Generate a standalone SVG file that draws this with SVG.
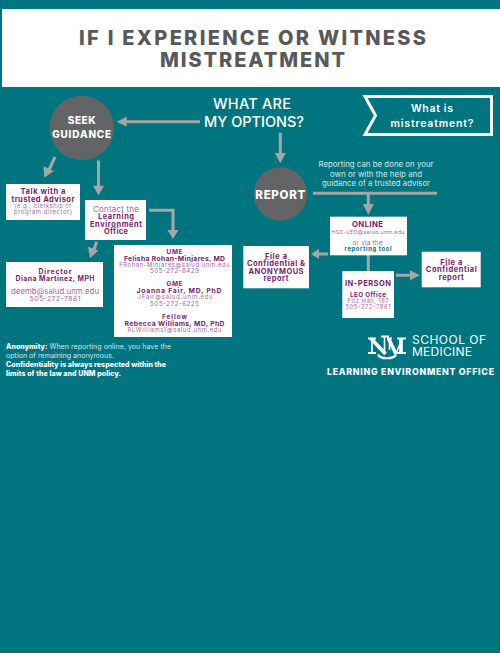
<svg xmlns="http://www.w3.org/2000/svg" width="500" height="653" viewBox="0 0 500 653">
<style>
text{font-family:Inter,"Open Sans","Liberation Sans",sans-serif;text-anchor:middle}
.box{fill:#fff}
.conn{fill:none;stroke:#a7a5a6;stroke-width:3}
.head{fill:#a7a5a6}
.circle{fill:#636466}
.b{font-weight:700;fill:#7b1c6e}
.l{fill:#a565a0}
.w{fill:#fff}
.wb{fill:#fff;font-weight:800}
.n{fill:#d5e6e7}
.st{text-anchor:start}
.lg{fill:none;stroke:#fff}
</style>
<rect width="500" height="653" fill="#00757f"/>
<g id="title">
<rect class="box" x="2" y="9" width="498" height="78"/>
<text x="252.500" y="44.500" font-size="20" font-weight="800" fill="#58595b" textLength="347">IF I EXPERIENCE OR WITNESS</text>
<text x="252.500" y="66.700" font-size="20" font-weight="800" fill="#58595b" textLength="185">MISTREATMENT</text>
</g>
<g id="connectors">
<path class="conn" d="M200 121.700H126"/><path class="head" d="M116.700 121.700l10-5v10z"/>
<path class="conn" d="M280.300 132.700V155"/><path class="head" d="M280.300 163.300l-5.500-10.300h11z"/>
<path class="conn" d="M55 157L49 170"/><path class="head" d="M44.300 177.700l-.8-11.500 10.300 4.700z"/>
<path class="conn" d="M98.500 160.500V187"/><path class="head" d="M98.500 195.300l-5.500-9.600h11z"/>
<path class="conn" d="M149 210.300H173V231"/><path class="head" d="M173 239l-5.500-9h11z"/>
<path class="conn" d="M96.700 241.700L93.500 251"/><path class="head" d="M90 258.300l-2-11.500 10.400 3.700z"/>
<path class="conn" d="M313 193.300H437"/>
<path class="conn" d="M368.300 194V205"/><path class="head" d="M368.300 215l-5.500-11h11z"/>
<path class="conn" d="M368.300 255V271"/>
<path class="conn" d="M328 254H318"/><path class="head" d="M311 254l8-5v10z"/>
<path class="conn" d="M396 275.300H411"/><path class="head" d="M420 275.300l-10-5v10z"/>
</g>
<g id="what-are">
<text class="w" x="252" y="108.700" font-size="14.500" font-weight="500" textLength="78">WHAT ARE</text>
<text class="w" x="254" y="127.300" font-size="14.500" font-weight="500" textLength="100">MY OPTIONS?</text>
</g>
<g id="what-is">
<path d="M365 96.500H491.500V134.500H365L375.500 115.500Z" fill="none" stroke="#fff" stroke-width="3"/>
<text class="w" x="432" y="112" font-size="10.500" font-weight="600" textLength="42">What is</text>
<text class="w" x="432" y="127" font-size="10.500" font-weight="600" textLength="83">mistreatment?</text>
</g>
<g id="seek">
<circle class="circle" cx="81.700" cy="128" r="32.300"/>
<text class="wb" x="81.700" y="124" font-size="10" textLength="28">SEEK</text>
<text class="wb" x="81.700" y="138" font-size="10" textLength="59">GUIDANCE</text>
</g>
<g id="report">
<circle class="circle" cx="280.300" cy="194" r="26.700"/>
<text class="wb" x="280.300" y="198.700" font-size="11.500" textLength="50">REPORT</text>
</g>
<g id="report-note">
<text class="n" x="376" y="167" font-size="7.800" textLength="115">Reporting can be done on your</text>
<text class="n" x="376" y="176.700" font-size="7.800" textLength="92">own or with the help and</text>
<text class="n" x="376" y="186.300" font-size="7.800" textLength="108">guidance of a trusted advisor</text>
</g>
<g id="advisor">
<rect class="box" x="6" y="184" width="74" height="36"/>
<text class="b" x="43" y="194" font-size="7.600" textLength="45">Talk with a</text>
<text class="b" x="43" y="201.700" font-size="7.600" textLength="63">trusted Advisor</text>
<text class="l" x="43" y="207.700" font-size="5.800" textLength="57">(e.g., clerkship or</text>
<text class="l" x="43" y="213.700" font-size="5.800" textLength="58">program director)</text>
</g>
<g id="leo">
<rect class="box" x="85" y="200" width="61" height="40"/>
<text class="l" x="116" y="212" font-size="8" textLength="46">Contact the</text>
<text class="b" x="116" y="219.300" font-size="7.400" textLength="36">Learning</text>
<text class="b" x="116" y="226.700" font-size="7.400" textLength="52">Environment</text>
<text class="b" x="116" y="233.700" font-size="7.400" textLength="24">Office</text>
</g>
<g id="director">
<rect class="box" x="6" y="262" width="97" height="45"/>
<text class="b" x="55" y="274" font-size="6.900" textLength="33">Director</text>
<text class="b" x="55" y="280.700" font-size="6.900" textLength="79">Diana Martinez, MPH</text>
<text class="l" x="55" y="294" font-size="7.800" textLength="88">deemb@salud.unm.edu</text>
<text class="l" x="55" y="300.700" font-size="6.800" textLength="51">505-272-7861</text>
</g>
<g id="contacts">
<rect class="box" x="114" y="245" width="118" height="92"/>
<text class="b" x="174.500" y="254" font-size="6.400" textLength="16">UME</text>
<text class="b" x="174.500" y="260.700" font-size="6.800" textLength="101">Felisha Rohan-Minjares, MD</text>
<text class="l" x="174.500" y="266.700" font-size="5.800" textLength="110.500">FRohan-Minjares@salud.unm.edu</text>
<text class="l" x="174.500" y="273.300" font-size="6.400" textLength="49">505-272-8429</text>
<text class="b" x="174.500" y="286.300" font-size="6.400" textLength="16">GME</text>
<text class="b" x="179" y="293" font-size="6.800" textLength="85">Joanna Fair, MD, PhD</text>
<text class="l" x="175" y="299.300" font-size="5.800" textLength="75">JFair@salud.unm.edu</text>
<text class="l" x="174.500" y="306.300" font-size="6.400" textLength="49">505-272-6225</text>
<text class="b" x="174.500" y="319" font-size="6.400" textLength="25">Fellow</text>
<text class="b" x="174.500" y="325.700" font-size="6.800" textLength="100">Rebecca Williams, MD, PhD</text>
<text class="l" x="174.500" y="332" font-size="5.800" textLength="94">RLWilliams1@salud.unm.edu</text>
</g>
<g id="online">
<rect class="box" x="330" y="216.700" width="77" height="38.600"/>
<text class="b" x="367.500" y="226.700" font-size="7.800" textLength="31">ONLINE</text>
<text class="l" x="368" y="234" font-size="5.300" textLength="73">HSC-LEO@salud.unm.edu</text>
<text class="l" x="367.500" y="245.300" font-size="6.500" textLength="30">or via the</text>
<text x="368" y="251" font-size="5.800" font-weight="700" fill="#00757f" textLength="47">reporting tool</text>
</g>
<g id="in-person">
<rect class="box" x="342.300" y="271" width="51.700" height="47"/>
<text class="b" x="368" y="285.700" font-size="7.500" textLength="46">IN-PERSON</text>
<text class="b" x="368" y="296.700" font-size="6.300" textLength="36">LEO Office</text>
<text class="l" x="368" y="302.700" font-size="5.800" textLength="41">Fitz Hall, 187</text>
<text class="l" x="368" y="308.700" font-size="5.800" textLength="45">505-272-7861</text>
</g>
<g id="anonymous">
<rect class="box" x="243.300" y="246" width="65.700" height="42.300"/>
<text class="b" x="276" y="259" font-size="7.500" textLength="22">File a</text>
<text class="b" x="276" y="266.300" font-size="7.500" textLength="58">Confidential &amp;</text>
<text class="b" x="276" y="274" font-size="7.500" textLength="55">ANONYMOUS</text>
<text class="b" x="276" y="281" font-size="7.500" textLength="25">report</text>
</g>
<g id="confidential">
<rect class="box" x="421.700" y="251.700" width="59" height="35.600"/>
<text class="b" x="451.300" y="265" font-size="7.500" textLength="22">File a</text>
<text class="b" x="451.300" y="272.300" font-size="7.500" textLength="51">Confidential</text>
<text class="b" x="451.300" y="279.700" font-size="7.500" textLength="25">report</text>
</g>
<g id="notes">
<text x="6" y="349.300" class="st n" font-size="7" textLength="165"><tspan class="wb">Anonymity:</tspan> When reporting online, you have the</text>
<text x="6" y="358" class="st n" font-size="7" textLength="108">option of remaining anonymous.</text>
<text x="6" y="367" class="st wb" font-size="7" textLength="160">Confidentiality is always respected within the</text>
<text x="6" y="375.700" class="st wb" font-size="7" textLength="115">limits of the law and UNM policy.</text>
</g>
<g id="logo">
<path class="lg" stroke-width="2" d="M368 338.500H376M368 353H376M381 336.500H389M387 338.500H392M397 338.500H406M397 353H406"/>
<path class="lg" stroke-width="1.600" d="M372 338.500V353M384.500 336.500V354M389.500 338.500V350M396 354L402 338.500"/>
<path class="lg" stroke-width="3.600" d="M371 338.500L385.500 354M388.500 338.500L396 354M401 338.500V353"/>
<path class="lg" stroke-width="2.200" d="M378 354.500C380 359.500 394 359.500 396 354.500"/>
<text class="w st" x="412" y="344" font-size="12" textLength="74">SCHOOL OF</text>
<text class="w st" x="412" y="355.700" font-size="12" textLength="60">MEDICINE</text>
<text class="wb st" x="327" y="375" font-size="8.800" textLength="167">LEARNING ENVIRONMENT OFFICE</text>
</g>
</svg>
